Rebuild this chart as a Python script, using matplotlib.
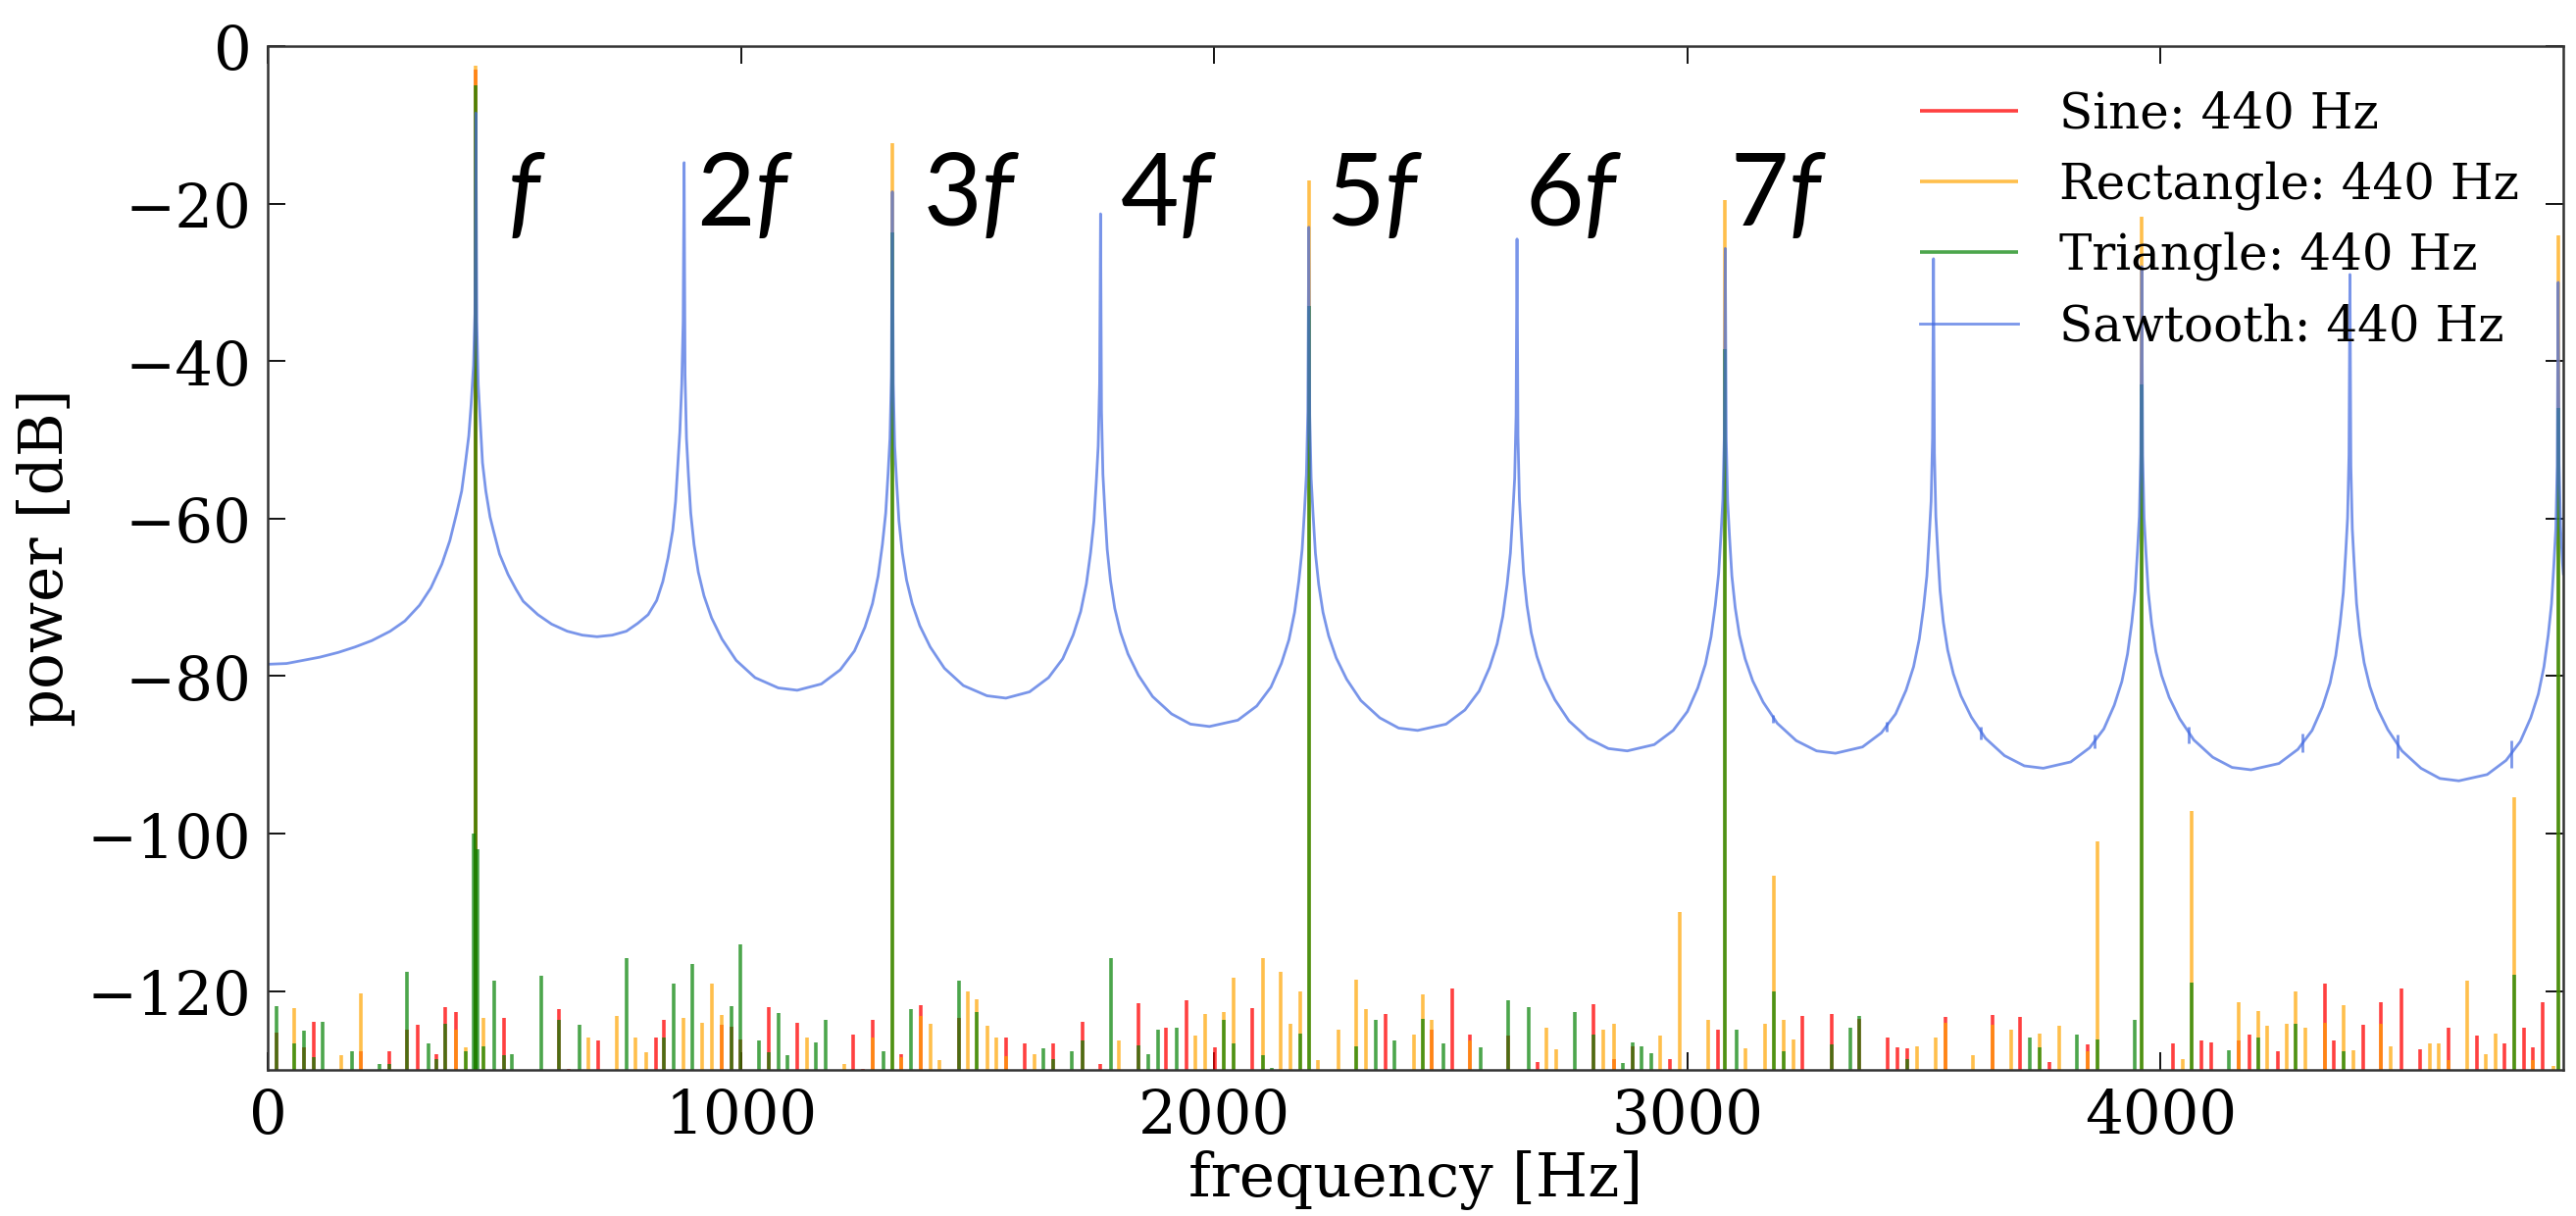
import matplotlib
matplotlib.use("Agg")
import matplotlib.pyplot as plt

plt.rcParams['font.family'] = ['DejaVu Serif']
plt.rcParams['mathtext.fontset'] = 'custom'
plt.rcParams['mathtext.it'] = 'Lato:italic'
plt.rcParams['mathtext.rm'] = 'Lato'

# --- data ---
# sawtooth spectrum (continuous line), Hz / dB, one row per gap between harmonics
saw_freq = [
    0, 40, 75, 110, 149, 185, 220, 259, 290, 321, 345, 368, 385, 399, 410, 418, 425, 430, 435, 438, 440,
    442, 445, 449, 454, 461, 470, 477, 490, 508, 525, 540, 571, 600, 633, 665, 696, 728, 758, 782, 804,
    822, 835, 846, 856, 862, 867, 871, 875, 878, 880,
    882, 885, 889, 894, 901, 910, 922, 938, 960, 990, 1030, 1079, 1119, 1170, 1210, 1240, 1262, 1278, 1290, 1299, 1306, 1311, 1315, 1318, 1320,
    1322, 1325, 1329, 1334, 1341, 1350, 1362, 1378, 1400, 1430, 1470, 1520, 1560, 1610, 1650, 1680, 1702, 1718, 1730, 1739, 1746, 1751, 1755, 1758, 1760,
    1762, 1765, 1769, 1774, 1781, 1790, 1802, 1818, 1840, 1870, 1910, 1950, 1990, 2050, 2090, 2120, 2142, 2158, 2170, 2179, 2186, 2191, 2195, 2198, 2200,
    2202, 2205, 2209, 2214, 2221, 2230, 2242, 2258, 2280, 2310, 2350, 2390, 2430, 2490, 2530, 2560, 2582, 2598, 2610, 2619, 2626, 2631, 2635, 2638, 2640,
    2642, 2645, 2649, 2654, 2661, 2670, 2682, 2698, 2720, 2750, 2790, 2833, 2873, 2930, 2970, 3000, 3022, 3038, 3050, 3059, 3066, 3071, 3075, 3078, 3080,
    3082, 3085, 3089, 3094, 3101, 3110, 3122, 3138, 3160, 3190, 3230, 3273, 3313, 3370, 3410, 3440, 3462, 3478, 3490, 3499, 3506, 3511, 3515, 3518, 3520,
    3522, 3525, 3529, 3534, 3541, 3550, 3562, 3578, 3600, 3630, 3670, 3712, 3752, 3810, 3850, 3880, 3902, 3918, 3930, 3939, 3946, 3951, 3955, 3958, 3960,
    3962, 3965, 3969, 3974, 3981, 3990, 4002, 4018, 4040, 4070, 4110, 4151, 4191, 4250, 4290, 4320, 4342, 4358, 4370, 4379, 4386, 4391, 4395, 4398, 4400,
    4402, 4405, 4409, 4414, 4421, 4430, 4442, 4458, 4480, 4510, 4550, 4590, 4630, 4690, 4730, 4760, 4782, 4798, 4810, 4819, 4826, 4831, 4835, 4838, 4840,
    4842, 4845, 4849, 4851,
]
saw_db = [
    -78.5, -78.4, -78.0, -77.6, -77.0, -76.3, -75.5, -74.3, -73.0, -71.0, -68.8, -65.8, -62.8, -59.4, -56.5, -52.9, -49.5, -45.5, -40.5, -34.0, -8.5,
    -35.0, -43.0, -47.5, -52.9, -56.5, -59.8, -61.5, -64.5, -67.1, -69.0, -70.5, -72.2, -73.4, -74.3, -74.8, -75.0, -74.8, -74.3, -73.3, -72.2,
    -70.4, -68.0, -65.0, -61.5, -57.8, -52.9, -49.0, -43.0, -35.0, -14.8,
    -41.8, -49.8, -54.3, -59.3, -63.3, -66.8, -69.8, -72.6, -75.3, -78.0, -80.2, -81.5, -81.8, -81.0, -79.2, -76.8, -73.8, -70.8, -67.3, -63.3, -59.3, -54.3, -49.8, -41.8, -18.5,
    -42.8, -50.8, -55.3, -60.3, -64.3, -67.8, -70.8, -73.6, -76.3, -79.0, -81.2, -82.5, -82.8, -82.0, -80.2, -77.8, -74.8, -71.8, -68.3, -64.3, -60.3, -55.3, -50.8, -42.8, -21.3,
    -46.4, -54.4, -58.9, -63.9, -67.9, -71.4, -74.4, -77.2, -79.9, -82.6, -84.8, -86.1, -86.4, -85.6, -83.8, -81.4, -78.4, -75.4, -71.9, -67.9, -63.9, -58.9, -54.4, -46.4, -23.0,
    -46.9, -54.9, -59.4, -64.4, -68.4, -71.9, -74.9, -77.7, -80.4, -83.1, -85.3, -86.6, -86.9, -86.1, -84.3, -81.9, -78.9, -75.9, -72.4, -68.4, -64.4, -59.4, -54.9, -46.9, -24.5,
    -49.5, -57.5, -62.0, -67.0, -71.0, -74.5, -77.5, -80.3, -83.0, -85.7, -87.9, -89.2, -89.5, -88.7, -86.9, -84.5, -81.5, -78.5, -75.0, -71.0, -67.0, -62.0, -57.5, -49.5, -25.7,
    -49.8, -57.8, -62.3, -67.3, -71.3, -74.8, -77.8, -80.6, -83.3, -86.0, -88.2, -89.5, -89.8, -89.0, -87.2, -84.8, -81.8, -78.8, -75.3, -71.3, -67.3, -62.3, -57.8, -49.8, -27.0,
    -51.7, -59.7, -64.2, -69.2, -73.2, -76.7, -79.7, -82.5, -85.2, -87.9, -90.1, -91.4, -91.7, -90.9, -89.1, -86.7, -83.7, -80.7, -77.2, -73.2, -69.2, -64.2, -59.7, -51.7, -28.0,
    -51.9, -59.9, -64.4, -69.4, -73.4, -76.9, -79.9, -82.7, -85.4, -88.1, -90.3, -91.6, -91.9, -91.1, -89.3, -86.9, -83.9, -80.9, -77.4, -73.4, -69.4, -64.4, -59.9, -51.9, -29.0,
    -53.3, -61.3, -65.8, -70.8, -74.8, -78.3, -81.3, -84.1, -86.8, -89.5, -91.7, -93.0, -93.3, -92.5, -90.7, -88.3, -85.3, -82.3, -78.8, -74.8, -70.8, -65.8, -61.3, -53.3, -30.0,
    -53.0, -61.0, -65.5, -67.0,
]
# small glitches sitting on the sawtooth curve
glitch_freq = [3180, 3420, 3620, 3860, 4060, 4300, 4500, 4740]
glitch_db = [-85.4, -86.4, -87.2, -88.3, -87.5, -88.5, -88.9, -89.9]
glitch_size = [1.0, 1.2, 1.6, 1.8, 2.1, 2.4, 3.0, 3.4]

# sine spectrum peaks above the -130 dB floor
sine_freq = [18, 77, 97, 197, 257, 295, 317, 357, 376, 397, 440, 499, 616, 636, 698,
             820, 838, 960, 981, 999, 1059, 1118, 1237, 1258, 1278, 1338, 1380, 1461,
             1560, 1599, 1659, 1721, 1760, 1840, 1899, 1942, 2002, 2081, 2362, 2460,
             2503, 2541, 2622, 2684, 2802, 2844, 2884, 2963, 3064, 3243, 3304, 3364,
             3423, 3443, 3465, 3546, 3645, 3703, 3766, 3845, 4027, 4087, 4107, 4165,
             4187, 4247, 4347, 4366, 4428, 4466, 4508, 4548, 4608, 4668, 4727, 4768,
             4786, 4807]
sine_db = [-125.3, -127.2, -123.9, -127.6, -127.6, -124.9, -124.3, -128.0, -122.0, -122.6,
           -3.0, -123.4, -122.3, -129.9, -126.3, -125.9, -123.7, -124.3, -124.5, -126.1,
           -122.0, -124.0, -125.5, -129.9, -123.7, -128.0, -121.8, -123.4, -125.9, -126.6,
           -126.6, -123.9, -129.3, -121.6, -124.7, -121.2, -127.2, -122.1, -122.9, -124.9,
           -119.7, -125.5, -125.7, -129.0, -121.7, -128.6, -127.0, -128.6, -124.9, -123.2,
           -122.9, -123.5, -125.9, -127.1, -127.3, -123.3, -123.0, -123.3, -129.0, -126.8,
           -126.6, -126.3, -126.5, -126.3, -125.5, -127.6, -119.0, -126.3, -124.3, -121.4,
           -119.7, -127.4, -124.7, -125.7, -126.6, -124.7, -127.2, -121.4]

# rectangle spectrum
rect_freq = [56, 156, 197, 397, 418, 440, 456, 677, 738, 777, 799, 878, 918, 938, 960,
             1140, 1219, 1278, 1320, 1338, 1380, 1400, 1419, 1479, 1499, 1520, 1540, 1560,
             1621, 1799, 1960, 1980, 2021, 2041, 2103, 2141, 2161, 2182, 2200, 2220, 2262,
             2301, 2321, 2422, 2440, 2460, 2541, 2702, 2723, 2823, 2844, 2942, 2983, 3044,
             3080, 3123, 3164, 3183, 3204, 3225, 3485, 3525, 3546, 3604, 3645, 3685, 3745,
             3785, 3845, 3867, 3960, 4046, 4066, 4165, 4206, 4225, 4267, 4286, 4305, 4347,
             4386, 4407, 4466, 4487, 4568, 4588, 4608, 4647, 4688, 4707, 4748, 4786, 4830,
             4840]
rect_db = [-122.2, -128.2, -120.3, -124.9, -127.2, -2.5, -123.4, -125.9, -123.2, -125.9,
           -127.8, -123.4, -124.0, -119.1, -123.0, -125.9, -129.3, -125.9, -12.3, -128.4,
           -123.2, -124.1, -128.8, -120.0, -121.0, -124.4, -125.9, -128.3, -128.0, -126.3,
           -125.7, -122.9, -122.6, -118.3, -115.8, -117.6, -124.2, -120.0, -17.0, -128.8,
           -124.9, -118.6, -122.3, -125.5, -120.4, -123.6, -126.3, -124.6, -127.4, -124.9,
           -124.1, -125.7, -110.0, -123.7, -19.5, -127.3, -124.2, -105.3, -123.7, -126.1,
           -127.0, -125.9, -124.0, -128.2, -124.3, -124.9, -125.4, -124.4, -127.6, -101.0,
           -21.7, -128.6, -97.1, -121.4, -122.5, -124.4, -124.2, -120.1, -124.7, -124.0,
           -121.8, -127.5, -124.2, -127.0, -126.6, -126.6, -128.7, -118.7, -128.0, -125.4,
           -95.4, -128.8, -129.5, -24.0]

# triangle spectrum
tri_freq = [18, 56, 77, 97, 117, 178, 237, 257, 295, 339, 357, 376, 418, 436, 440, 444,
            456, 478, 499, 517, 578, 616, 660, 758, 838, 858, 898, 981, 999, 1039, 1059,
            1079, 1099, 1158, 1179, 1302, 1320, 1360, 1461, 1499, 1639, 1659, 1700, 1721,
            1782, 1840, 1861, 1881, 1921, 2021, 2041, 2103, 2121, 2182, 2200, 2301, 2341,
            2381, 2440, 2484, 2563, 2622, 2664, 2762, 2802, 2863, 2884, 2904, 2924, 3080,
            3104, 3183, 3204, 3304, 3344, 3364, 3465, 3724, 3745, 3823, 3867, 3945, 3960,
            4066, 4144, 4206, 4286, 4386, 4748, 4840]
tri_db = [-121.9, -126.6, -125.0, -128.4, -123.9, -127.6, -129.3, -129.3, -117.6, -126.6,
          -128.6, -124.1, -127.6, -100.0, -5.0, -102.0, -127.0, -118.7, -128.1, -128.0,
          -118.0, -123.7, -124.3, -115.8, -125.9, -119.0, -116.6, -121.9, -114.1, -126.3,
          -127.8, -122.8, -128.2, -126.5, -123.7, -127.6, -23.6, -122.3, -118.7, -122.6,
          -127.3, -128.6, -127.7, -126.3, -115.8, -126.9, -128.0, -124.9, -124.6, -123.6,
          -126.6, -128.2, -129.7, -125.4, -33.0, -127.0, -123.6, -126.3, -123.5, -126.6,
          -127.2, -121.2, -122.0, -122.6, -125.5, -129.1, -126.5, -127.0, -127.9, -38.5,
          -124.9, -120.1, -127.7, -126.8, -124.7, -123.2, -128.6, -125.9, -127.2, -125.5,
          -126.1, -123.7, -43.0, -118.9, -127.5, -125.9, -124.1, -127.7, -117.9, -46.0]

harmonic_labels = ['f', '2f', '3f', '4f', '5f', '6f', '7f']
label_x = [505, 905, 1385, 1800, 2235, 2657, 3090]
floor_db = -130

fig = plt.figure(figsize=(26.27, 12.40), dpi=100)
ax = fig.add_axes([0.1039, 0.1202, 0.8912, 0.8419])

ax.vlines(sine_freq, floor_db, sine_db, color='red', alpha=0.75, lw=2.6, label='Sine: 440 Hz')
ax.vlines(rect_freq, floor_db, rect_db, color='orange', alpha=0.7, lw=2.6, label='Rectangle: 440 Hz')
ax.vlines(tri_freq, floor_db, tri_db, color='green', alpha=0.7, lw=2.6, label='Triangle: 440 Hz')
ax.plot(saw_freq, saw_db, color='royalblue', alpha=0.7, lw=2.0, label='Sawtooth: 440 Hz')
ax.vlines(glitch_freq, [d - s / 2 for d, s in zip(glitch_db, glitch_size)],
          [d + s / 2 for d, s in zip(glitch_db, glitch_size)], color='royalblue', alpha=0.7, lw=2.0)

# harmonic annotations: number upright, f italic
for lab, x in zip(harmonic_labels, label_x):
    num = lab[:-1]
    ax.text(x, -22.8, num + r'$\mathit{f}$', family='Lato', fontsize=74,
            ha='left', va='baseline', color='black')

ax.set_xlim(0, 4851)
ax.set_ylim(-130, 0)
ax.set_xticks([0, 1000, 2000, 3000, 4000])
ax.set_yticks([0, -20, -40, -60, -80, -100, -120])
ax.tick_params(direction='in', top=True, right=True, length=13, width=1.3,
               labelsize=44, pad=12)
for sp in ax.spines.values():
    sp.set_linewidth(1.8)
    sp.set_color('#333333')

ax.set_xlabel('frequency [Hz]', fontsize=44, labelpad=4)
ax.set_ylabel('power [dB]', fontsize=44, labelpad=8)

ax.legend(loc='upper right', frameon=False, fontsize=36,
          handlelength=2.0, handletextpad=0.85, labelspacing=0.45,
          borderaxespad=0.5)

fig.savefig('out.png', dpi=100)
